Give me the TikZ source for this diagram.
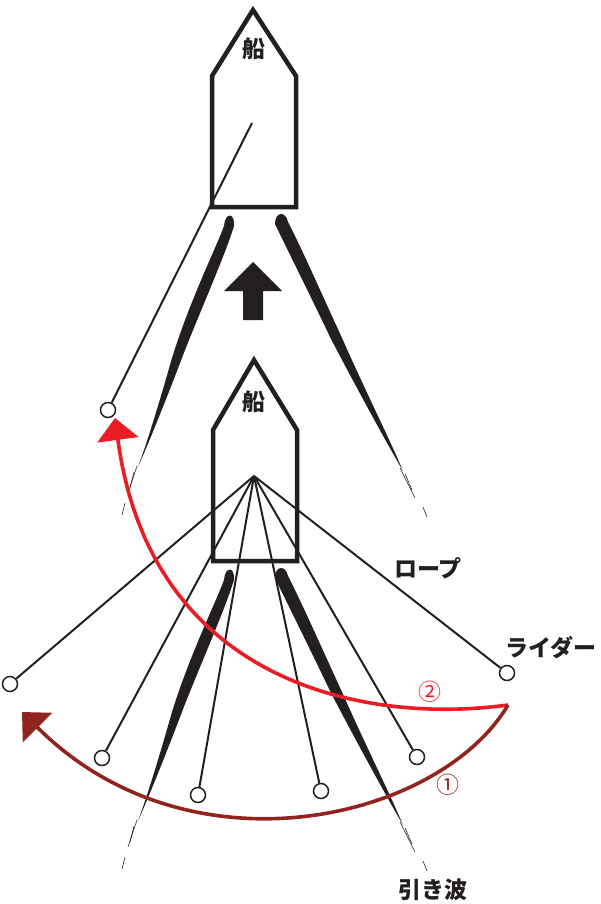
\documentclass[tikz,border=0pt]{standalone}
\usepackage{fontspec}
\newfontfamily\cjk{Noto Sans CJK JP}
\usetikzlibrary{arrows.meta}

\definecolor{ink}{RGB}{35,31,32}
\definecolor{redA}{RGB}{236,28,36}
\definecolor{redB}{RGB}{146,36,32}

\begin{document}
\begin{tikzpicture}[x=1pt, y=-1pt,
  every node/.style={font=\cjk\bfseries\fontsize{23}{23}\selectfont, text=ink},
  hull/.style={draw=ink, line width=4.5pt, line join=miter},
  rope/.style={draw=ink, line width=2pt},
  rider/.style={circle, draw=ink, line width=1.5pt, fill=white, inner sep=0pt, minimum size=15pt},
  spray/.style={draw=ink, line width=0.6pt},
  turn/.style={line width=3.6pt, -{Triangle[length=22pt, width=41pt]}}]
\useasboundingbox (0,0) rectangle (600,904);

% Wakes behind both boats
\foreach \dy in {0,354} {
\begin{scope}[shift={(0,\dy)}]
\fill[ink] (224,226) .. controls (225,212) and (235,212) .. (234,226)
  .. controls (225,255) and (205,300) .. (185,350)
  .. controls (168,395) and (150,440) .. (138,467)
  .. controls (148,440) and (160,400) .. (172,358)
  .. controls (190,300) and (216,248) .. cycle; % LEFT
\fill[ink] (275,224) .. controls (275,211) and (286,211) .. (288,222)
  .. controls (300,245) and (320,290) .. (342,338)
  .. controls (365,390) and (390,440) .. (403,471)
  .. controls (385,440) and (355,385) .. (331,339)
  .. controls (310,295) and (290,255) .. cycle; % RIGHT
\draw[spray] (137,466) -- (128,493); \draw[spray] (134,472) -- (130,488);
\draw[spray] (125,503) -- (122,515);
\draw[spray] (400,468) -- (415,498); \draw[spray] (405,474) -- (412,490);
\draw[spray] (423,507) -- (427,517);
\end{scope}
}

% Direction of travel
\fill[ink] (253,262) -- (282,291) -- (263,291) -- (263,320) -- (243,320) -- (243,291) -- (224,291) -- cycle;

% Upper boat
\draw[hull] (212,207) -- (212,76) -- (253,10) -- (296,76) -- (296,207) -- cycle;
\node (boatA) at (254,49) {船};
\coordinate (hubA) at (252,123);
\node[rider] (riderA) at (108,410) {};
\draw[rope] (hubA) -- (riderA);

% Lower boat
\draw[hull] (213,561) -- (213,430) -- (254,360) -- (297,430) -- (297,561) -- cycle;
\node (boatB) at (254,402) {船};
\coordinate (hubB) at (254,476);
\foreach \n/\x/\y in {1/10/684, 2/102/758, 3/198/795, 4/321/791, 5/417/757, 6/507/673} {
  \node[rider] (rider\n) at (\x,\y) {};
  \draw[rope] (hubB) -- (rider\n);
}

% Turns
\coordinate (turnStart) at (508,705);
\coordinate (turnEndA) at (115,418);
\coordinate (turnEndB) at (22,712);
\draw[turn, redA] (turnStart) .. controls (360,725) and (150,680) .. (turnEndA);
\draw[turn, redB] (turnStart) .. controls (440,820) and (190,880) .. (turnEndB);
\node[font=\cjk\fontsize{23}{23}\selectfont, text=redA] (numA) at (430,692) {②};
\node[font=\cjk\fontsize{23}{23}\selectfont, text=redB] (numB) at (448,785) {①};

% Labels
\node (ropeLbl) at (428,568) {ロープ};
\node (riderLbl) at (551,648) {ライダー};
\node (wakeLbl) at (433,890) {引き波};
\end{tikzpicture}
\end{document}
